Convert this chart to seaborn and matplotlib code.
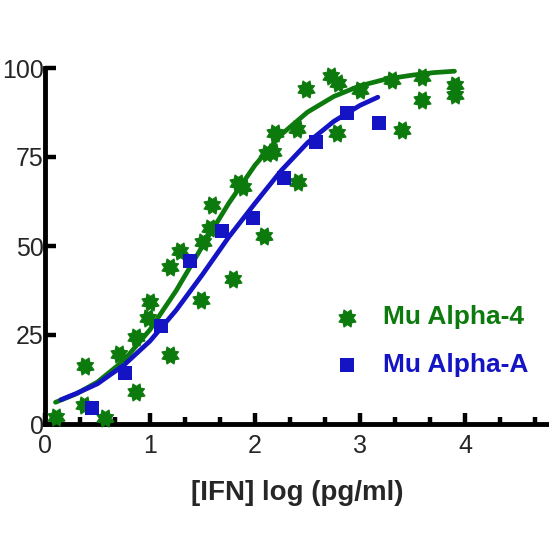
import matplotlib
matplotlib.use("Agg")
import matplotlib.pyplot as plt
import seaborn as sns
import numpy as np
from matplotlib.ticker import MultipleLocator

alpha4_x = [0.10, 0.38, 0.37, 0.57, 0.70, 0.87, 0.87, 1.00, 0.98, 1.19,
            1.19, 1.29, 1.49, 1.50, 1.57, 1.59, 1.79, 1.84, 1.89, 2.09,
            2.11, 2.17, 2.19, 2.40, 2.41, 2.49, 2.72, 2.79, 2.78, 3.00,
            3.30, 3.40, 3.59, 3.59, 3.90, 3.90]
alpha4_y = [2.0, 16.4, 5.2, 1.7, 19.6, 24.3, 9.0, 34.3, 29.8, 19.4,
            44.0, 48.5, 34.8, 51.0, 55.0, 61.5, 40.7, 67.7, 66.6, 52.8,
            76.0, 76.4, 81.7, 83.0, 68.0, 94.0, 97.8, 95.8, 81.7, 93.8,
            96.6, 82.6, 97.4, 91.0, 95.2, 92.4]

alphaA_x = [0.45, 0.76, 1.10, 1.38, 1.69, 1.98, 2.28, 2.58, 2.88, 3.18]
alphaA_y = [4.5, 14.3, 27.5, 45.8, 54.2, 57.9, 69.1, 79.2, 87.4, 84.6]

# fitted curves
fit4_x = [0.10, 0.30, 0.50, 0.75, 1.00, 1.25, 1.50, 1.75, 2.00, 2.25,
          2.50, 2.75, 3.00, 3.25, 3.50, 3.70, 3.90]
fit4_y = [6.1, 8.5, 11.8, 17.8, 26.5, 37.5, 50.0, 62.0, 72.7, 81.3,
          87.6, 92.0, 95.0, 96.9, 98.0, 98.7, 99.1]
fitA_x = [0.15, 0.30, 0.50, 0.75, 1.00, 1.25, 1.50, 1.75, 2.00, 2.25,
          2.50, 2.75, 3.00, 3.17]
fitA_y = [6.8, 8.6, 11.3, 16.5, 23.3, 32.0, 42.0, 52.5, 62.0, 71.2,
          79.0, 85.0, 89.5, 91.8]

green = "#0d7a0d"
blue = "#1414c4"

# chunky 8-point star like the Prism symbol
ang = np.linspace(0, 2 * np.pi, 17)[:-1] + np.pi / 8
rad = np.where(np.arange(16) % 2 == 0, 1.0, 0.66)
star = np.column_stack([rad * np.cos(ang), rad * np.sin(ang)])

sns.set_theme(style="ticks", rc={"axes.spines.right": False, "axes.spines.top": False})
plt.rcParams["font.family"] = ["Liberation Sans", "DejaVu Sans"]

fig = plt.figure(figsize=(5.49, 5.49), dpi=100)
ax = fig.add_axes([45 / 549, 125 / 549, 504 / 549, 356 / 549])

sns.lineplot(x=fit4_x, y=fit4_y, color=green, linewidth=3.4, ax=ax,
             sort=False, solid_capstyle="round", clip_on=False)
sns.lineplot(x=fitA_x, y=fitA_y, color=blue, linewidth=3.4, ax=ax,
             sort=False, solid_capstyle="round", clip_on=False)

sns.scatterplot(x=alpha4_x, y=alpha4_y, marker=star, s=150, color=green,
                edgecolor=green, linewidth=0.8, ax=ax, clip_on=False,
                label="Mu Alpha-4", zorder=3)
sns.scatterplot(x=alphaA_x, y=alphaA_y, marker="s", s=90, color=blue,
                edgecolor=blue, linewidth=0, ax=ax, clip_on=False,
                label="Mu Alpha-A", zorder=3)

ax.set_xlim(0, 4.8)
ax.set_ylim(0, 100)
ax.set_yticks([0, 25, 50, 75, 100])
ax.set_xticks([0, 1, 2, 3, 4])
ax.xaxis.set_minor_locator(MultipleLocator(1 / 3))
ax.spines["left"].set_bounds(0, 100)
for s in ["left", "bottom"]:
    ax.spines[s].set_linewidth(3.5)
    ax.spines[s].set_color("black")
ax.tick_params(axis="both", which="major", direction="in", length=8, width=3.2,
               labelsize=18, color="black")
ax.tick_params(axis="x", which="minor", direction="in", length=5, width=3.2,
               color="black")
ax.tick_params(axis="x", which="major", pad=7)
ax.tick_params(axis="y", which="major", pad=1)

ax.set_xlabel("[IFN] log (pg/ml)", fontsize=20, fontweight="bold", labelpad=16)
ax.set_ylabel("")

leg = ax.legend(loc="center left", bbox_to_anchor=(0.573, 0.233), frameon=False,
                handlelength=1.0, handletextpad=0.85, labelspacing=0.88,
                borderaxespad=0, borderpad=0,
                prop={"weight": "bold", "size": 19})
for txt, col in zip(leg.get_texts(), [green, blue]):
    txt.set_color(col)

fig.savefig("out.png", dpi=100)
plt.close()
